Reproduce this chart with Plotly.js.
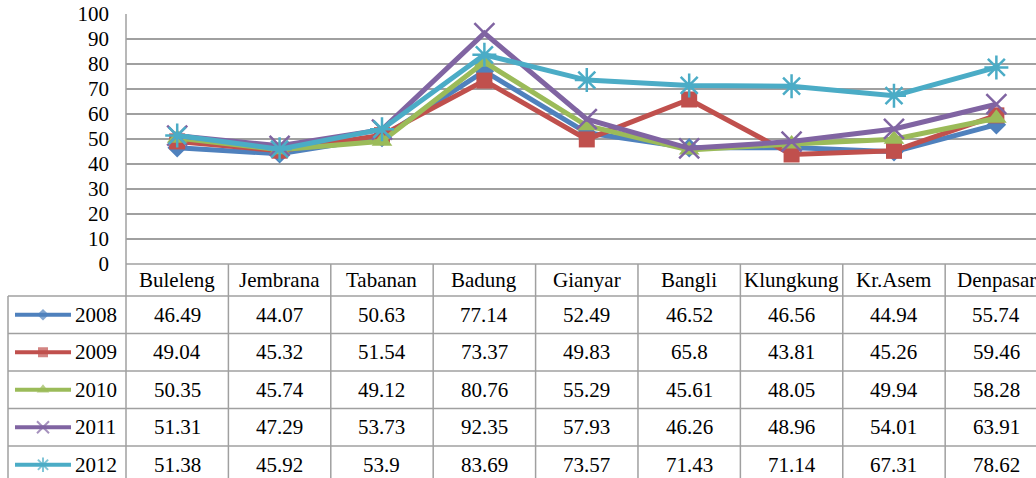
<!DOCTYPE html>
<html><head><meta charset="utf-8">
<script src="https://cdn.plot.ly/plotly-3.0.1.min.js"></script>
</head><body style="margin:0;padding:0;background:#fff"><div id="chart" style="width:1036px;height:478px"></div>
<script>
const categories = ['Buleleng','Jembrana','Tabanan','Badung','Gianyar','Bangli','Klungkung','Kr.Asem','Denpasar'];
const years = ['2008','2009','2010','2011','2012'];
const v2008 = [46.49,44.07,50.63,77.14,52.49,46.52,46.56,44.94,55.74];
const v2009 = [49.04,45.32,51.54,73.37,49.83,65.8,43.81,45.26,59.46];
const v2010 = [50.35,45.74,49.12,80.76,55.29,45.61,48.05,49.94,58.28];
const v2011 = [51.31,47.29,53.73,92.35,57.93,46.26,48.96,54.01,63.91];
const v2012 = [51.38,45.92,53.9,83.69,73.57,71.43,71.14,67.31,78.62];
const yTicks = [0,10,20,30,40,50,60,70,80,90,100];

const seriesValues = [v2008, v2009, v2010, v2011, v2012];
const colors = ['#4F81BD','#C0504D','#9BBB59','#8064A2','#4BACC6'];
const symbols = ['diamond','square','triangle-up','x-thin-open','asterisk-open'];
const msizes = [15,16,18,20,20];

const W = 1036, H = 478;
const px = x => x / W;
const py = y => 1 - y / H;
const FONT = 'Liberation Serif';
const FS = 21;
const GRID = '#a0a0a0';
const mkFont = () => ({family: FONT, size: FS, color: '#000000'});

const plotLeft = 126, plotTop = 14, plotBottom = 264;
const headerBottom = 296, rowH = 37.5;

const traces = [];
seriesValues.forEach((vals, k) => {
  const open = symbols[k].indexOf('open') >= 0;
  traces.push({
    type: 'scatter', mode: 'lines+markers', name: years[k],
    x: categories, y: vals, xaxis: 'x', yaxis: 'y',
    line: {color: colors[k], width: 5},
    marker: {symbol: symbols[k], size: msizes[k], color: colors[k],
             line: {color: colors[k], width: open ? 2.5 : 0}},
    showlegend: false, hoverinfo: 'x+y'
  });
});

// legend samples inside the table's first column
seriesValues.forEach((vals, k) => {
  const open = symbols[k].indexOf('open') >= 0;
  const c = headerBottom + rowH * k + rowH / 2;
  traces.push({
    type: 'scatter', mode: 'lines+markers', xaxis: 'x2', yaxis: 'y2',
    x: [15, 43, 71], y: [c, c, c],
    line: {color: colors[k], width: 4},
    marker: {symbol: symbols[k], size: [0, Math.round(msizes[k] * 0.6), 0], color: colors[k],
             line: {color: colors[k], width: open ? 2 : 0}},
    showlegend: false, hoverinfo: 'skip'
  });
});

const shapes = [];
const mkLine = () => ({color: GRID, width: 1.5});
shapes.push({type: 'line', xref: 'paper', yref: 'paper', x0: px(plotLeft), x1: px(plotLeft), y0: py(plotTop), y1: py(H), line: mkLine()});
shapes.push({type: 'line', xref: 'paper', yref: 'paper', x0: px(8), x1: px(8), y0: py(headerBottom), y1: py(H), line: mkLine()});
shapes.push({type: 'line', xref: 'paper', yref: 'paper', x0: px(plotLeft), x1: 1, y0: py(plotBottom), y1: py(plotBottom), line: mkLine()});
for (let k = 0; k < 5; k++) {
  const yy = headerBottom + rowH * k;
  shapes.push({type: 'line', xref: 'paper', yref: 'paper', x0: px(8), x1: 1, y0: py(yy), y1: py(yy), line: mkLine()});
}
for (let i = 0; i < categories.length - 1; i++) {
  shapes.push({type: 'line', xref: 'x', yref: 'paper', x0: i + 0.5, x1: i + 0.5, y0: py(plotBottom), y1: py(H), line: mkLine()});
}

const annotations = [];
categories.forEach((c, i) => {
  annotations.push({xref: 'x', yref: 'paper', x: i, y: py(280), text: c, showarrow: false,
    xanchor: 'center', yanchor: 'middle', font: mkFont()});
});
seriesValues.forEach((vals, k) => {
  const c = headerBottom + rowH * k + rowH / 2;
  annotations.push({xref: 'paper', yref: 'paper', x: px(73), y: py(c), text: years[k], showarrow: false,
    xanchor: 'left', yanchor: 'middle', font: mkFont()});
  vals.forEach((v, i) => {
    annotations.push({xref: 'x', yref: 'paper', x: i, y: py(c), text: String(v), showarrow: false,
      xanchor: 'center', yanchor: 'middle', font: mkFont()});
  });
});

const layout = {
  width: W, height: H,
  margin: {l: 0, r: 0, t: 0, b: 0},
  font: {family: FONT, size: FS, color: '#000000'},
  xaxis: {type: 'category', domain: [px(plotLeft), 1], range: [-0.5, 8.387],
          showgrid: false, zeroline: false, showline: false, showticklabels: false, ticks: ''},
  yaxis: {domain: [py(plotBottom), py(plotTop)], range: [0, 100], tickvals: yTicks,
          ticktext: yTicks.map(String), showgrid: true, gridcolor: GRID, gridwidth: 1.5,
          zeroline: false, showline: false, ticks: '', ticklabelstandoff: 16,
          tickfont: mkFont()},
  xaxis2: {domain: [0, px(plotLeft)], range: [0, plotLeft], visible: false, anchor: 'y2'},
  yaxis2: {domain: [0, py(plotBottom)], range: [H, plotBottom], visible: false, anchor: 'x2'},
  shapes, annotations, showlegend: false
};

Plotly.newPlot('chart', traces, layout, {displayModeBar: false});
</script>
</body></html>
